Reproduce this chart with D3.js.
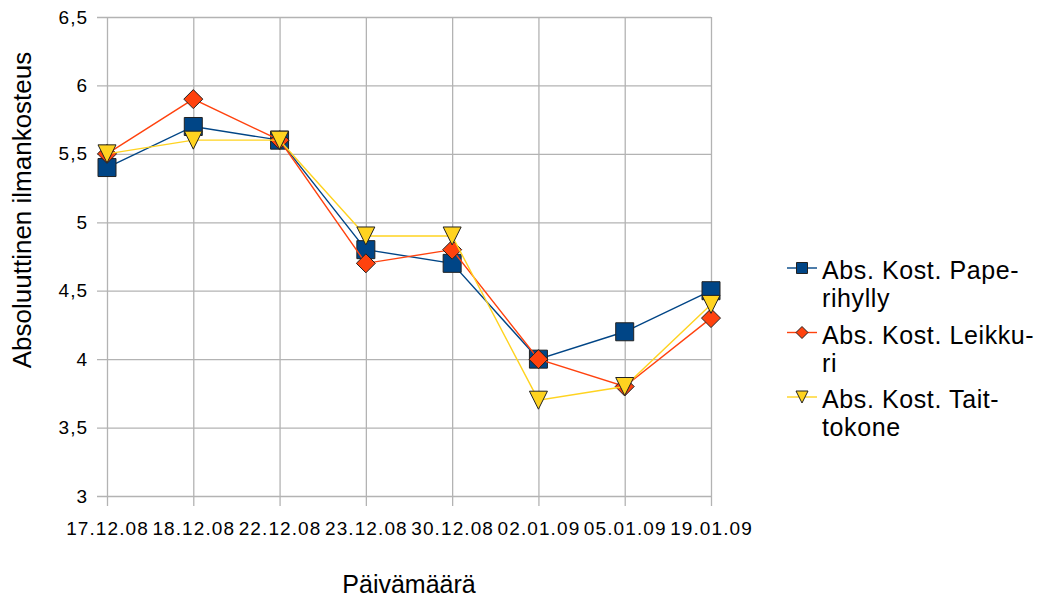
<!DOCTYPE html>
<html>
<head>
<meta charset="utf-8">
<script src="https://cdn.jsdelivr.net/npm/d3@7"></script>
<style>
  html, body { margin: 0; padding: 0; background: #fff; }
  svg { display: block; font-family: "Liberation Sans", Arial, sans-serif; }
</style>
</head>
<body>
<svg id="chart" width="1044" height="599"></svg>
<script>
// Measurement dates
const dates = ["17.12.08", "18.12.08", "22.12.08", "23.12.08", "30.12.08", "02.01.09", "05.01.09", "19.01.09"];

// Absolute humidity per location
const paperihylly = [5.4, 5.7, 5.6, 4.8, 4.7, 4.0, 4.2, 4.5];
const leikkuri    = [5.5, 5.9, 5.6, 4.7, 4.8, 4.0, 3.8, 4.3];
const taittokone  = [5.5, 5.6, 5.6, 4.9, 4.9, 3.7, 3.8, 4.4];

// Legend text, split over two lines as hyphenated
const seriesNames = [
  ["Abs. Kost. Pape-", "rihylly"],
  ["Abs. Kost. Leikku-", "ri"],
  ["Abs. Kost. Tait-", "tokone"]
];

const yTicks = [3, 3.5, 4, 4.5, 5, 5.5, 6, 6.5];
const yTitle = "Absoluuttinen ilmankosteus";
const xTitle = "Päivämäärä";

const series = [
  { values: paperihylly, color: "#004586", shape: "square" },
  { values: leikkuri,    color: "#ff420e", shape: "diamond" },
  { values: taittokone,  color: "#ffd320", shape: "triangle" }
];

const svg = d3.select("#chart");
const plot = { left: 107, right: 711, top: 17, bottom: 496 };

const x = d3.scalePoint().domain(dates).range([plot.left, plot.right]).padding(0);
const y = d3.scaleLinear().domain([3, 6.5]).range([plot.bottom, plot.top]);

const gridColor = "#b3b3b3";
const fmt = v => String(v).replace(".", ",");

// Horizontal gridlines with outward ticks
const yAxis = d3.axisLeft(y).tickValues(yTicks).tickFormat(fmt)
  .tickSize(-(plot.right - plot.left)).tickPadding(19);
const gy = svg.append("g").attr("transform", `translate(${plot.left},0)`).call(yAxis);
gy.select(".domain").remove();
gy.selectAll(".tick line").attr("stroke", gridColor).attr("stroke-width", 1.3).attr("x1", -10);
gy.selectAll(".tick text").attr("fill", "#000").attr("font-size", 19).attr("letter-spacing", 1)
  .attr("font-family", "Liberation Sans, Arial, sans-serif");

// Vertical gridlines at each date with outward ticks
const xAxis = d3.axisBottom(x).tickSize(-(plot.bottom - plot.top)).tickPadding(26);
const gx = svg.append("g").attr("transform", `translate(0,${plot.bottom})`).call(xAxis);
gx.select(".domain").remove();
gx.selectAll(".tick line").attr("stroke", gridColor).attr("stroke-width", 1.3).attr("y1", 10);
gx.selectAll(".tick text").attr("fill", "#000").attr("font-size", 19).attr("letter-spacing", 1.1)
  .attr("font-family", "Liberation Sans, Arial, sans-serif");

// Marker symbols
const symbolPath = {
  square: s => `M${-s/2},${-s/2}H${s/2}V${s/2}H${-s/2}Z`,
  diamond: s => `M0,${-s/2}L${s/2},0L0,${s/2}L${-s/2},0Z`,
  triangle: s => `M${-s/2},${-s/2}H${s/2}L0,${s/2}Z`
};

const line = d3.line().x((d, i) => x(dates[i])).y(d => y(d));

series.forEach(s => {
  const g = svg.append("g");
  g.append("path").datum(s.values).attr("d", line)
    .attr("fill", "none").attr("stroke", s.color).attr("stroke-width", 1.4);
  g.selectAll("path.mk").data(s.values).join("path").attr("class", "mk")
    .attr("transform", (d, i) => `translate(${x(dates[i])},${y(d)})`)
    .attr("d", symbolPath[s.shape](s.shape === "diamond" ? 19 : 18))
    .attr("fill", s.color).attr("stroke", "#222").attr("stroke-width", 1);
});

// Legend
const legend = svg.append("g");
series.forEach((s, i) => {
  const base = 279 + i * 64.5;
  const cy = base - 11;
  legend.append("line").attr("x1", 787).attr("x2", 817).attr("y1", cy).attr("y2", cy)
    .attr("stroke", s.color).attr("stroke-width", 1.4);
  legend.append("path").attr("transform", `translate(802,${cy})`)
    .attr("d", symbolPath[s.shape](s.shape === "square" ? 11 : 12))
    .attr("fill", s.color).attr("stroke", "#222").attr("stroke-width", 1);
  const t = legend.append("text").attr("x", 822).attr("y", base)
    .attr("font-size", 25).attr("letter-spacing", 0.6).attr("fill", "#000");
  seriesNames[i].forEach((ln, j) => {
    t.append("tspan").attr("x", 822).attr("dy", j === 0 ? 0 : 28).text(ln);
  });
});

// Axis titles
svg.append("text").attr("x", 409).attr("y", 593).attr("text-anchor", "middle")
  .attr("font-size", 25).attr("fill", "#000").text(xTitle);
svg.append("text").attr("transform", "translate(31,210) rotate(-90)")
  .attr("text-anchor", "middle").attr("font-size", 26).attr("fill", "#000").text(yTitle);
</script>
</body>
</html>
